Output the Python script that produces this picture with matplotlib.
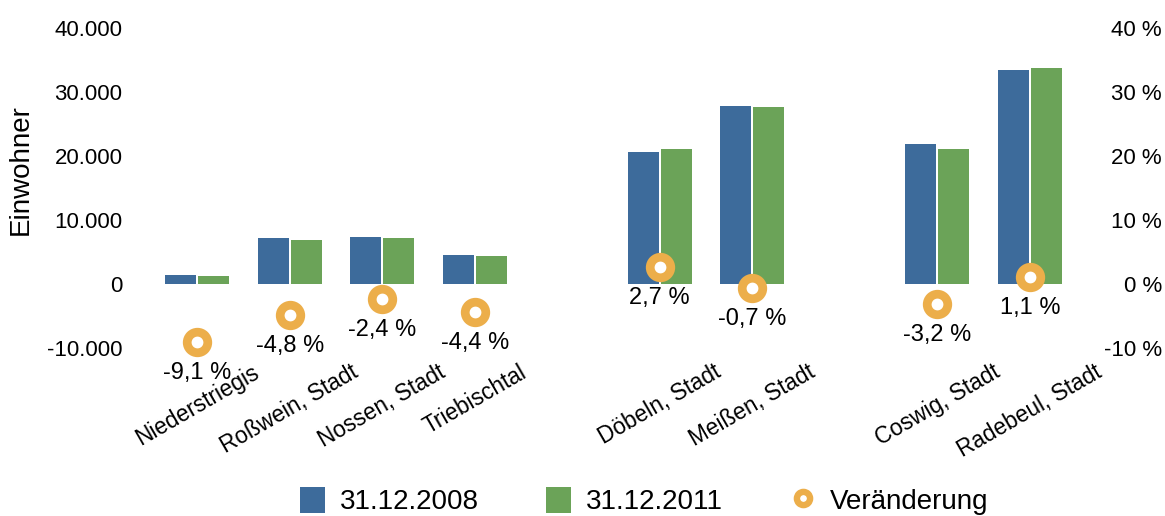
import matplotlib
matplotlib.use("Agg")
import matplotlib.pyplot as plt
from matplotlib.patches import Patch
from matplotlib.lines import Line2D
from matplotlib.ticker import FuncFormatter

plt.rcParams['font.family'] = ['Liberation Sans', 'DejaVu Sans']

# ---- data ----
groups = [
    ["Niederstriegis", "Roßwein, Stadt", "Nossen, Stadt", "Triebischtal"],
    ["Döbeln, Stadt", "Meißen, Stadt"],
    ["Coswig, Stadt", "Radebeul, Stadt"],
]
pop_2008 = [1330, 7160, 7310, 4500, 20600, 27780, 21800, 33360]
pop_2011 = [1210, 6820, 7135, 4300, 21100, 27590, 21100, 33750]
change_pct = [-9.1, -4.8, -2.4, -4.4, 2.7, -0.7, -3.2, 1.1]
series_labels = ["31.12.2008", "31.12.2011", "Veränderung"]
left_ticks = [-10000, 0, 10000, 20000, 30000, 40000]
right_ticks = [-10, 0, 10, 20, 30, 40]

# ---- style ----
c_blue = "#3d6b9b"
c_green = "#6ba358"
c_orange = "#ecae4a"
fs_tick = 16
fs_cat = 16.3
fs_pct = 17

W, H = 1165, 516
fig = plt.figure(figsize=(W / 100, H / 100), dpi=100)
ax = fig.add_axes([151 / W, (H - 348) / H, 925 / W, 320 / H])

# slot positions with one empty slot between groups
positions, labels = [], []
slot = 0
for g in groups:
    for name in g:
        positions.append(slot)
        labels.append(name)
        slot += 1
    slot += 1
nslots = slot - 1

bw = 0.335
off = 0.178
ax.bar([p - off for p in positions], pop_2008, width=bw, color=c_blue, zorder=2)
ax.bar([p + off for p in positions], pop_2011, width=bw, color=c_green, zorder=2)

ax.set_xlim(-0.5, nslots - 0.5)
ax.set_ylim(-10000, 40000)
ax.set_yticks(left_ticks)
ax.yaxis.set_major_formatter(FuncFormatter(lambda v, p: f"{int(v):,}".replace(",", ".")))
ax.tick_params(axis='y', length=0, pad=20.5, labelsize=fs_tick)
ax.set_xticks(positions)
ax.set_xticklabels(labels, rotation=30, ha='center', va='top', fontsize=fs_cat)
ax.tick_params(axis='x', length=0, pad=9)
for s in ax.spines.values():
    s.set_visible(False)

ax2 = ax.twinx()
ax2.set_ylim(-10, 40)
ax2.set_yticks(right_ticks)
ax2.yaxis.set_major_formatter(FuncFormatter(lambda v, p: f"{int(v)} %"))
ax2.tick_params(axis='y', length=0, pad=86 * 72 / 100, labelsize=fs_tick)
for lab in ax2.get_yticklabels():
    lab.set_horizontalalignment('right')
for s in ax2.spines.values():
    s.set_visible(False)

ax2.plot(positions, change_pct, linestyle='none', marker='o', markersize=14.8,
         markeredgewidth=6.3, markeredgecolor=c_orange, markerfacecolor='white',
         zorder=5, clip_on=False)
for x, v in zip(positions, change_pct):
    ax2.annotate(f"{v:.1f} %".replace(".", ","), (x, v), xytext=(0, -22.3),
                 textcoords='offset points', ha='center', va='center',
                 fontsize=fs_pct, annotation_clip=False)

fig.text(21 / W, 1 - 170 / H, "Einwohner", rotation=90, ha='center', va='center',
         fontsize=20)

handles = [
    Patch(facecolor=c_blue, edgecolor='none'),
    Patch(facecolor=c_green, edgecolor='none'),
    Line2D([], [], linestyle='none', marker='o', markersize=9.5, markeredgewidth=4.6,
           markeredgecolor=c_orange, markerfacecolor='white'),
]
lfs = 20
em = lfs * 100 / 72
fig.legend(handles, series_labels, loc='center left',
           bbox_to_anchor=(300 / W, 15 / H), ncol=3, frameon=False,
           fontsize=lfs, handlelength=25 / em, handleheight=30 / em,
           handletextpad=15 / em, columnspacing=67 / em,
           borderpad=0, borderaxespad=0)

fig.savefig("out.png", dpi=100)
